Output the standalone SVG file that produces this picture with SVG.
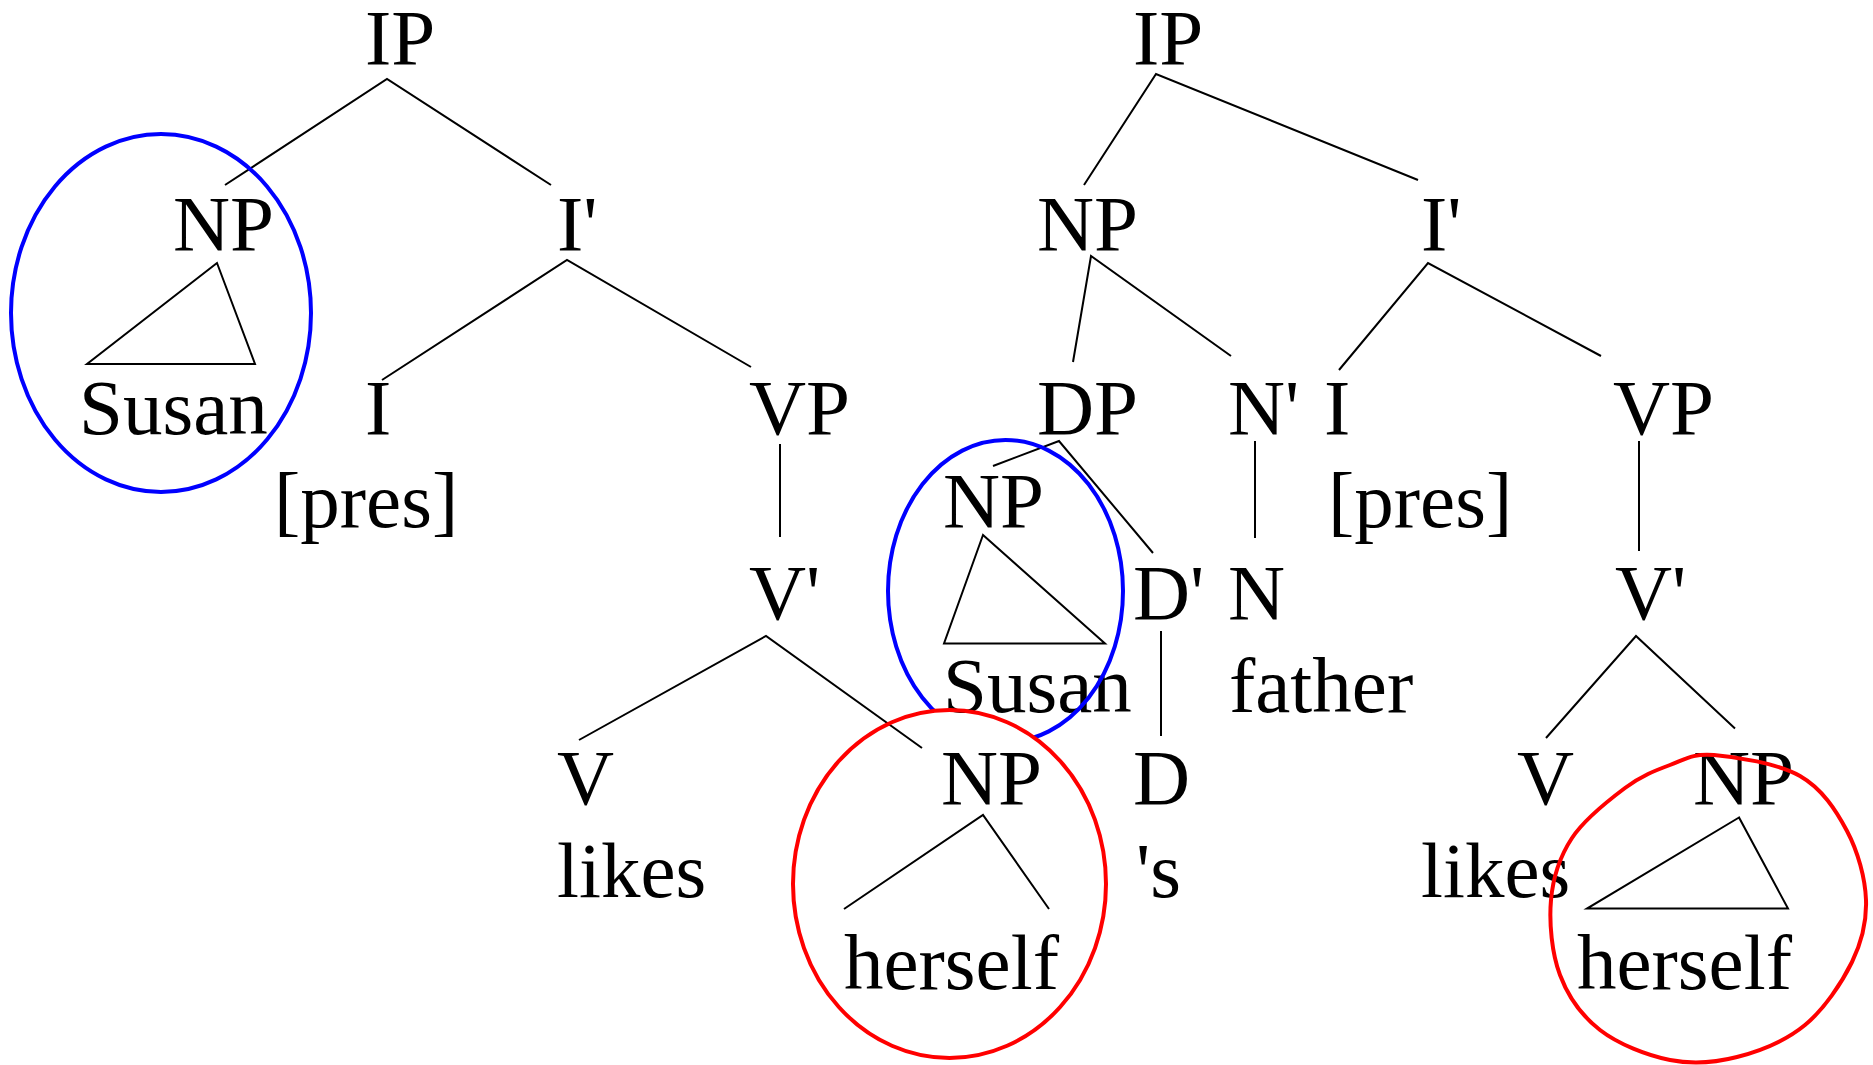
<svg xmlns="http://www.w3.org/2000/svg" width="1873" height="1065" viewBox="0 0 1873 1065">
  <style>
    .lbl { font-family: "Liberation Serif", "Times New Roman", serif; font-size: 79px; fill: #000; }
    .edge { stroke: #000; stroke-width: 2; fill: none; stroke-linejoin: miter; }
    .ring-blue { stroke: #0000ff; stroke-width: 4; fill: none; }
    .ring-red { stroke: #ff0000; stroke-width: 4; fill: none; }
  </style>
  <defs>
    <!-- hides the part of the inner blue ring that falls inside the red ring -->
    <mask id="outside-red" maskUnits="userSpaceOnUse" x="0" y="0" width="1873" height="1065">
      <rect x="0" y="0" width="1873" height="1065" fill="#fff"/>
      <ellipse cx="949.5" cy="884" rx="156.5" ry="174" fill="#000"/>
    </mask>
  </defs>
  <rect width="1873" height="1065" fill="#fff"/>

  <!-- left tree: Susan likes herself -->
  <g id="t1-ip"><text class="lbl" x="365" y="64">IP</text></g>
  <g id="t1-np"><text class="lbl" x="173" y="249.5">NP</text></g>
  <g id="t1-susan"><text class="lbl" x="79" y="434">Susan</text></g>
  <g id="t1-ibar"><text class="lbl" x="557" y="249.5">I'</text></g>
  <g id="t1-i"><text class="lbl" x="365" y="434">I</text></g>
  <g id="t1-pres"><text class="lbl" x="274" y="526.5">[pres]</text></g>
  <g id="t1-vp"><text class="lbl" x="749" y="434">VP</text></g>
  <g id="t1-vbar"><text class="lbl" x="749" y="619">V'</text></g>
  <g id="t1-v"><text class="lbl" x="557" y="804">V</text></g>
  <g id="t1-likes"><text class="lbl" x="557" y="896.5">likes</text></g>
  <g id="t1-obj-np"><text class="lbl" x="941" y="804">NP</text></g>
  <g id="t1-herself"><text class="lbl" x="844" y="989">herself</text></g>

  <!-- right tree: Susan's father likes herself -->
  <g id="t2-ip"><text class="lbl" x="1133" y="64">IP</text></g>
  <g id="t2-np"><text class="lbl" x="1037" y="249.5">NP</text></g>
  <g id="t2-ibar"><text class="lbl" x="1421" y="249.5">I'</text></g>
  <g id="t2-dp"><text class="lbl" x="1037" y="434">DP</text></g>
  <g id="t2-nbar"><text class="lbl" x="1228" y="434">N'</text></g>
  <g id="t2-i"><text class="lbl" x="1324" y="434">I</text></g>
  <g id="t2-pres"><text class="lbl" x="1328" y="526.5">[pres]</text></g>
  <g id="t2-vp"><text class="lbl" x="1613" y="434">VP</text></g>
  <g id="t2-poss-np"><text class="lbl" x="943" y="526.5">NP</text></g>
  <g id="t2-dbar"><text class="lbl" x="1133" y="619">D'</text></g>
  <g id="t2-n"><text class="lbl" x="1228" y="619">N</text></g>
  <g id="t2-vbar"><text class="lbl" x="1615" y="619">V'</text></g>
  <g id="t2-susan"><text class="lbl" x="943" y="711.5">Susan</text></g>
  <g id="t2-father"><text class="lbl" x="1229" y="711.5">father</text></g>
  <g id="t2-d"><text class="lbl" x="1133" y="804">D</text></g>
  <g id="t2-s"><text class="lbl" x="1136" y="896.5">'s</text></g>
  <g id="t2-v"><text class="lbl" x="1517" y="804">V</text></g>
  <g id="t2-obj-np"><text class="lbl" x="1693" y="804">NP</text></g>
  <g id="t2-likes"><text class="lbl" x="1421" y="896.5">likes</text></g>
  <g id="t2-herself"><text class="lbl" x="1577" y="989">herself</text></g>

  <!-- branches -->
  <g id="connectors" class="edge">
    <polyline points="225,185 387,79 551,185"/>
    <polygon points="217,263 87,364 255,364"/>
    <polyline points="382,380 567,260 751,367"/>
    <line x1="780" y1="444" x2="780" y2="537"/>
    <polyline points="579,740 766,636 922,748"/>
    <polyline points="844,909 983,815 1049,909"/>

    <polyline points="1084,185 1156,74 1418,180"/>
    <polyline points="1073,362 1091,256 1231,356"/>
    <polyline points="1339,370 1428,263 1601,356"/>
    <polyline points="993,466 1059,441 1153,553"/>
    <line x1="1255" y1="441" x2="1255" y2="538"/>
    <line x1="1639" y1="441" x2="1639" y2="551"/>
    <polygon points="983,535 944,643.5 1105,643.5"/>
    <line x1="1161" y1="631" x2="1161" y2="736"/>
    <polyline points="1546,738 1636,636 1735,728.5"/>
    <polygon points="1739,817.5 1587,908.6 1788,908.6"/>
  </g>

  <!-- coreference rings -->
  <g id="rings">
    <ellipse class="ring-blue" cx="161" cy="313" rx="150" ry="179"/>
    <ellipse class="ring-blue" cx="1005.5" cy="591" rx="117.5" ry="151" mask="url(#outside-red)"/>
    <ellipse class="ring-red" cx="949.5" cy="884" rx="156.5" ry="174"/>
    <path class="ring-red" d="M1714,755 C1735.7,756.8 1777.8,763.3 1800,776 C1822.2,788.7 1836,810.3 1847,831 C1858,851.7 1865.2,878.2 1866,900 C1866.8,921.8 1862.2,941.2 1852,962 C1841.8,982.8 1824.2,1009.2 1805,1025 C1785.8,1040.8 1759.5,1051.2 1737,1057 C1714.5,1062.8 1692.8,1064.5 1670,1060 C1647.2,1055.5 1618.3,1044.2 1600,1030 C1581.7,1015.8 1568.2,996.7 1560,975 C1551.8,953.3 1549,922.8 1551,900 C1553,877.2 1559.7,856.7 1572,838 C1584.3,819.3 1608.7,800.2 1625,788 C1641.3,775.8 1655.2,770.5 1670,765 C1684.8,759.5 1692.3,753.2 1714,755 Z"/>
  </g>
</svg>
